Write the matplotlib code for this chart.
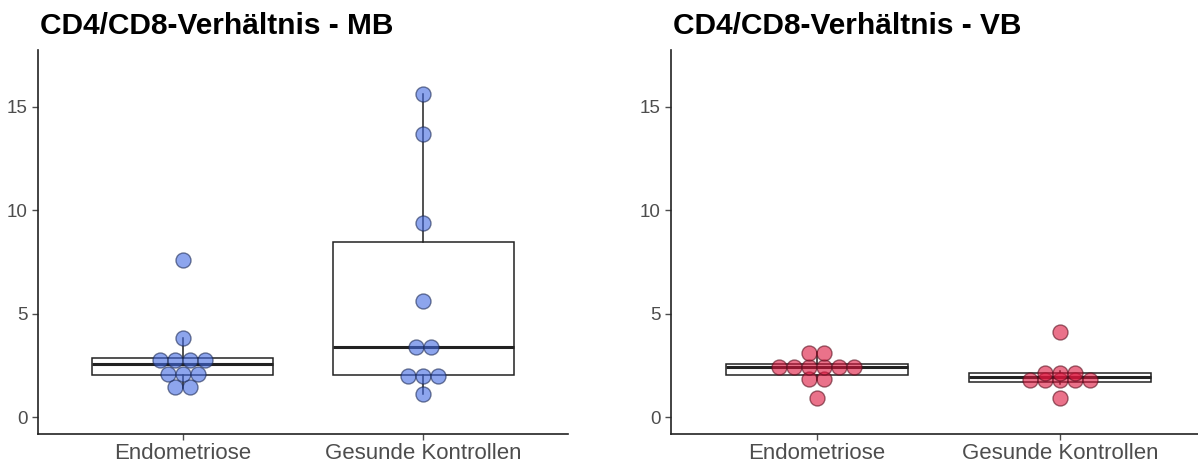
import numpy as np
import matplotlib.pyplot as plt

plt.rcParams['font.family'] = ['Liberation Sans', 'DejaVu Sans']

groups = ['Endometriose', 'Gesunde Kontrollen']

# CD4/CD8 ratio, MB
mb_endo = [1.4, 1.5, 2.0, 2.1, 2.2, 2.55, 2.7, 2.8, 2.94, 3.8, 7.6]
mb_ctrl = [1.1, 1.95, 2.0, 2.05, 3.35, 3.45, 5.6, 9.4, 13.7, 15.6]

# CD4/CD8 ratio, VB
vb_endo = [0.9, 1.78, 1.9, 2.21, 2.3, 2.4, 2.45, 2.55, 2.6, 3.05, 3.15]
vb_ctrl = [0.9, 1.62, 1.68, 1.74, 1.9, 1.94, 2.06, 2.15, 2.24, 4.13]

binwidth = 0.4
dot_px = 15.0
DPI = 100


def dot_density(vals, bw):
    # greedy binning like ggplot's dotdensity method
    v = np.sort(np.asarray(vals))
    bins = []
    i = 0
    while i < len(v):
        j = i
        while j + 1 < len(v) and v[j + 1] < v[i] + bw:
            j += 1
        bins.append(((v[i] + v[j]) / 2, j - i + 1))
        i = j + 1
    return bins


def panel(ax, data, title, fill, edge):
    ax.set_xlim(-0.6, 1.6)
    ax.set_ylim(-0.82, 17.75)
    ax.boxplot(data, positions=[0, 1], widths=0.75, whis=1.5,
               showfliers=False, patch_artist=True, showcaps=False,
               boxprops=dict(facecolor='white', edgecolor='#222222', linewidth=1.1),
               whiskerprops=dict(color='#222222', linewidth=1.1),
               medianprops=dict(color='#222222', linewidth=2.2),
               zorder=1)
    # px per x data unit
    fig = ax.figure
    w_px = ax.get_position().width * fig.get_figwidth() * DPI
    dx = dot_px / (w_px / 2.2)
    for k, vals in enumerate(data):
        xs, ys = [], []
        for yc, n in dot_density(vals, binwidth):
            for m in range(n):
                xs.append(k + (m - (n - 1) / 2) * dx)
                ys.append(yc)
        ax.scatter(xs, ys, s=(dot_px * 72 / DPI) ** 2, facecolor=fill, alpha=0.6,
                   edgecolor=edge, linewidth=1.0, zorder=3)
    ax.set_xticks([0, 1])
    ax.set_xticklabels(groups, fontsize=16, color='#4D4D4D')
    ax.set_yticks([0, 5, 10, 15])
    ax.tick_params(axis='y', labelsize=13.5, colors='#4D4D4D', length=4, width=1)
    ax.tick_params(axis='x', length=4, width=1, colors='#4D4D4D', pad=2.5)
    for s in ['top', 'right']:
        ax.spines[s].set_visible(False)
    for s in ['left', 'bottom']:
        ax.spines[s].set_color('#222222')
        ax.spines[s].set_linewidth(1.2)
    pos = ax.get_position()
    fig.text(pos.x0 + 0.002, 1 - 34 / 466, title, fontsize=21.5, fontweight='bold',
             ha='left', va='baseline', color='black')


fig = plt.figure(figsize=(11.98, 4.66), dpi=DPI)
ax1 = fig.add_axes([38 / 1198, 1 - 434 / 466, 530 / 1198, 384 / 466])
ax2 = fig.add_axes([671 / 1198, 1 - 434 / 466, 535 / 1198, 384 / 466])

panel(ax1, [mb_endo, mb_ctrl], 'CD4/CD8-Verhältnis - MB', '#4169E1', '#1c2a55')
panel(ax2, [vb_endo, vb_ctrl], 'CD4/CD8-Verhältnis - VB', '#DC143C', '#5a0f1e')

fig.savefig('out.png', dpi=DPI)
